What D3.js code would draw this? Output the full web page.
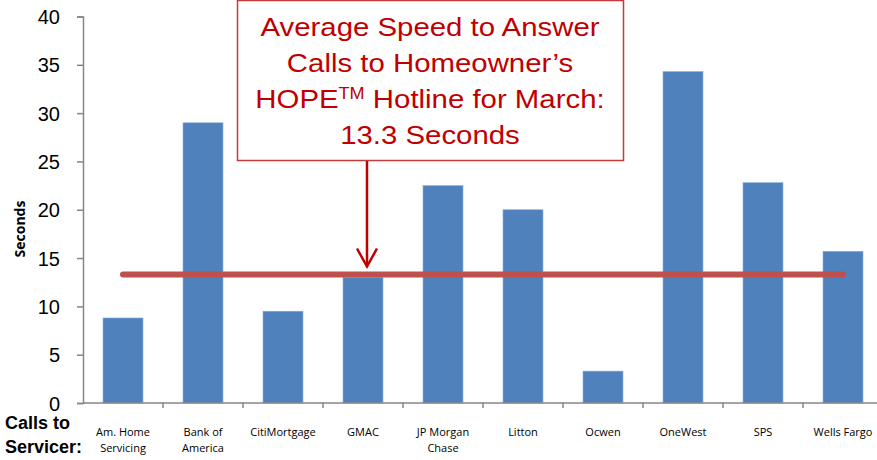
<!DOCTYPE html>
<html>
<head>
<meta charset="utf-8">
<script src="https://cdn.jsdelivr.net/npm/d3@7"></script>
<style>
  body { margin: 0; background: #fff; }
  svg { display: block; }
  .tick text { font-family: "Liberation Sans", Arial, sans-serif; }
</style>
</head>
<body>
<svg id="chart" width="877" height="460"></svg>
<script>
// data
const servicers = ["Am. Home|Servicing", "Bank of|America", "CitiMortgage", "GMAC", "JP Morgan|Chase",
                   "Litton", "Ocwen", "OneWest", "SPS", "Wells Fargo"];
const seconds = [8.8, 29.0, 9.5, 13.0, 22.5, 20.0, 3.3, 34.3, 22.8, 15.7];
const average = 13.3;
const yTicks = [0, 5, 10, 15, 20, 25, 30, 35, 40];
const calloutLines = ["Average Speed to Answer", "Calls to Homeowner\u2019s", "HOPE|TM| Hotline for March:", "13.3 Seconds"];

const svg = d3.select("#chart");

// scales
const x = d3.scaleBand()
    .domain(servicers)
    .range([83, 883])
    .paddingInner(0.5)
    .paddingOuter(0.25);

const y = d3.scaleLinear()
    .domain([0, 40])
    .range([403, 16.5]);

const axisColor = "#868686";

// bars
svg.append("g")
  .selectAll("rect")
  .data(servicers)
  .join("rect")
    .attr("x", d => x(d))
    .attr("y", (d, i) => y(seconds[i]))
    .attr("width", x.bandwidth())
    .attr("height", (d, i) => y(0) - y(seconds[i]))
    .attr("fill", "#4f81bd")
    .attr("stroke", "#8eaed8")
    .attr("stroke-width", 0.6);

// y axis
const yAxis = svg.append("g")
    .attr("transform", "translate(83,0)")
    .call(d3.axisLeft(y).tickValues(yTicks).tickSize(6).tickPadding(17));
yAxis.select(".domain").attr("stroke", axisColor).attr("stroke-width", 1.5);
yAxis.selectAll(".tick line").attr("stroke", axisColor).attr("stroke-width", 1.5);
yAxis.selectAll(".tick text")
    .attr("font-size", 20)
    .attr("fill", "#000")
    .attr("dy", "0.35em");

// x axis: baseline plus ticks between categories
const step = x.step();
svg.append("line")
    .attr("x1", x.range()[0]).attr("x2", x.range()[1])
    .attr("y1", y(0)).attr("y2", y(0))
    .attr("stroke", axisColor).attr("stroke-width", 1.5);

svg.append("g")
  .selectAll("line")
  .data(servicers.slice(1))
  .join("line")
    .attr("x1", d => x(d) - step * x.paddingInner() / 2)
    .attr("x2", d => x(d) - step * x.paddingInner() / 2)
    .attr("y1", y(0)).attr("y2", y(0) + 5)
    .attr("stroke", axisColor).attr("stroke-width", 1.5);

// category labels
const catLabels = svg.append("g")
    .attr("font-family", "'Open Sans', 'Liberation Sans', sans-serif")
    .attr("font-size", 11)
    .attr("fill", "#000")
    .attr("text-anchor", "middle");

servicers.forEach(d => {
    const t = catLabels.append("text")
        .attr("x", x(d) + x.bandwidth() / 2)
        .attr("y", 436);
    d.split("|").forEach((part, k) => {
        t.append("tspan")
            .attr("x", x(d) + x.bandwidth() / 2)
            .attr("y", 436 + k * 16)
            .text(part);
    });
});

// average line
svg.append("line")
    .attr("x1", x(servicers[0]) + x.bandwidth() / 2)
    .attr("x2", x(servicers[servicers.length - 1]) + x.bandwidth() / 2)
    .attr("y1", y(average)).attr("y2", y(average))
    .attr("stroke", "#c0504d")
    .attr("stroke-width", 6)
    .attr("stroke-linecap", "round");

// axis titles
svg.append("text")
    .attr("transform", "translate(25,229) rotate(-90)")
    .attr("text-anchor", "middle")
    .attr("font-family", "'Open Sans', 'Liberation Sans', sans-serif")
    .attr("font-weight", "bold")
    .attr("font-size", 14)
    .text("Seconds");

const callsTitle = svg.append("text")
    .attr("font-family", "'Liberation Sans', Arial, sans-serif")
    .attr("font-weight", "bold")
    .attr("font-size", 18);
callsTitle.append("tspan").attr("x", 5).attr("y", 429).text("Calls to");
callsTitle.append("tspan").attr("x", 5).attr("y", 453).text("Servicer:");

// callout box and arrow
const red = "#c00000";
const callout = svg.append("g");
callout.append("rect")
    .attr("x", 237.5).attr("y", 0.5)
    .attr("width", 386).attr("height", 160)
    .attr("fill", "#fff")
    .attr("stroke", "#c8393b")
    .attr("stroke-width", 1.5);

const cx = 430;
const ct = callout.append("text")
    .attr("transform", `translate(${cx},0) scale(1.13,1) translate(${-cx},0)`)
    .attr("text-anchor", "middle")
    .attr("font-family", "'Liberation Sans', Arial, sans-serif")
    .attr("font-size", 26)
    .attr("fill", red);

calloutLines.forEach((line, k) => {
    const t = ct.append("tspan").attr("x", cx).attr("y", 36 + k * 36);
    if (line.includes("|")) {
        const [a, sup, b] = line.split("|");
        t.text(a);
        ct.append("tspan").attr("font-size", 16).attr("dy", -9).text(sup);
        ct.append("tspan").attr("dy", 9).text(b);
    } else {
        t.text(line);
    }
});

const arrowX = 367;
const tipY = y(average) - 8;
callout.append("line")
    .attr("x1", arrowX).attr("x2", arrowX)
    .attr("y1", 161).attr("y2", tipY)
    .attr("stroke", red).attr("stroke-width", 2.5);
callout.append("path")
    .attr("d", `M${arrowX - 10},${tipY - 18} L${arrowX},${tipY} L${arrowX + 10},${tipY - 18}`)
    .attr("fill", "none")
    .attr("stroke", red)
    .attr("stroke-width", 2.5);
</script>
</body>
</html>
